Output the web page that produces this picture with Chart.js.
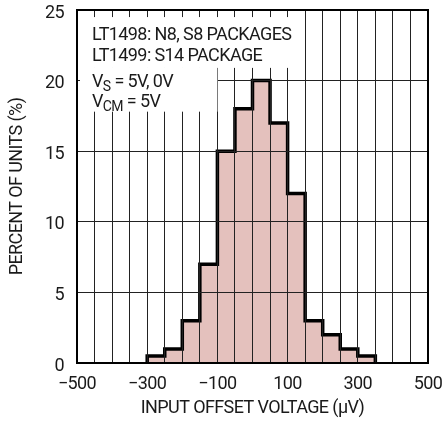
<!DOCTYPE html>
<html><head><meta charset="utf-8">
<script src="https://cdn.jsdelivr.net/npm/chart.js@4/dist/chart.umd.min.js"></script>
<style>html,body{margin:0;padding:0;background:#fff}#wrap{width:444px;height:421px}</style>
</head><body><div id="wrap"><canvas id="c" width="444" height="421"></canvas></div>
<script>
const binStarts = [-300,-250,-200,-150,-100,-50,0,50,100,150,200,250,300];
const binWidth = 50;
const percents = [0.5,1,3,7,15,18,20,17,12,3,2,1,0.5];
const xTickLabels = [-500,-300,-100,100,300,500];
const yTicks = [0,5,10,15,20,25];
const noteLines = ["LT1498: N8, S8 PACKAGES","LT1499: S14 PACKAGE"];
const xTitle = "INPUT OFFSET VOLTAGE (\u00B5V)";
const yTitle = "PERCENT OF UNITS (%)";

const FONT = "Roboto, 'Liberation Sans', sans-serif";
const LS = '-0.6px';

// stepped 'before': each point's value is held horizontally until the next point
const pts = [{x: binStarts[0], y: 0}];
binStarts.forEach((b,i)=>pts.push({x:b, y:percents[i]}));
pts.push({x: binStarts[binStarts.length-1]+binWidth, y: 0});

const overlay = {
  id:'overlay',
  beforeDraw(chart){ chart.ctx.letterSpacing = LS; },
  afterDraw(chart){
    const ctx = chart.ctx, xs = chart.scales.x, ys = chart.scales.y, a = chart.chartArea;
    ctx.save();
    ctx.letterSpacing = LS;
    ctx.fillStyle = '#fff';
    ctx.fillRect(a.left+3, ys.getPixelForValue(24.5), xs.getPixelForValue(145)-a.left-3, ys.getPixelForValue(20.9)-ys.getPixelForValue(24.5));
    ctx.fillRect(a.left+3, ys.getPixelForValue(20.95), xs.getPixelForValue(-100)-a.left-3, ys.getPixelForValue(17.8)-ys.getPixelForValue(20.95));
    ctx.strokeStyle = '#000'; ctx.lineWidth = 2;
    ctx.strokeRect(a.left, a.top, a.right-a.left, a.bottom-a.top);
    ctx.fillStyle = '#1a1a1a';
    ctx.textBaseline = 'alphabetic';
    ctx.textAlign = 'left';
    const x0 = a.left + 15;
    ctx.font = "18px " + FONT;
    ctx.fillText(noteLines[0], x0, a.top + 30);
    ctx.fillText(noteLines[1], x0, a.top + 51);
    let y3 = a.top + 77, y4 = a.top + 97;
    ctx.font = "18px " + FONT; ctx.fillText("V", x0, y3);
    let w = ctx.measureText("V").width;
    ctx.font = "14px " + FONT; ctx.fillText("S", x0+w, y3+4);
    let w2 = ctx.measureText("S").width;
    ctx.font = "18px " + FONT; ctx.fillText(" = 5V, 0V", x0+w+w2, y3);
    ctx.fillText("V", x0, y4);
    ctx.font = "14px " + FONT; ctx.fillText("CM", x0+w, y4+4);
    w2 = ctx.measureText("CM").width;
    ctx.font = "18px " + FONT; ctx.fillText(" = 5V", x0+w+w2, y4);
    ctx.restore();
  }
};

new Chart(document.getElementById('c'), {
  type: 'line',
  data: { datasets: [{
    data: pts,
    stepped: 'before',
    fill: 'origin',
    backgroundColor: '#e4c1bd',
    borderColor: '#000',
    borderWidth: 3.5,
    pointRadius: 0,
    borderJoinStyle: 'miter'
  }]},
  options: {
    responsive: false,
    animation: false,
    events: [],
    plugins: { legend: {display:false}, tooltip: {enabled:false} },
    layout: { padding: { left: 0, right: 16, top: 10, bottom: 0 } },
    scales: {
      x: {
        type: 'linear', min: -500, max: 500,
        afterFit(s){ s.height = 58; s.paddingLeft = 0; s.paddingRight = 0; },
        ticks: { stepSize: 50, autoSkip: false, maxRotation: 0, padding: 11, color: '#1a1a1a',
          font: { size: 18, family: FONT },
          callback: (v) => xTickLabels.includes(v) ? (v < 0 ? '\u2212' + Math.abs(v) : String(v)) : '' },
        grid: { color: '#222', lineWidth: 1, drawTicks: false, z: 1 },
        border: { display: false },
        title: { display: true, text: xTitle, color: '#1a1a1a', font: { size: 18, family: FONT }, padding: { top: 0, bottom: 2 } }
      },
      y: {
        min: 0, max: 25,
        afterFit(s){ s.width = 77; s.paddingTop = 0; s.paddingBottom = 0; },
        ticks: { stepSize: 5, padding: 13, labelOffset: 3, color: '#1a1a1a', font: { size: 18, family: FONT },
          callback: (v) => yTicks.includes(v) ? String(v) : '' },
        grid: { color: '#222', lineWidth: 1, drawTicks: false, z: 1 },
        border: { display: false },
        title: { display: true, text: yTitle, color: '#1a1a1a', font: { size: 18, family: FONT }, padding: { top: 7, bottom: 0 } }
      }
    }
  },
  plugins: [overlay]
});
</script></body></html>
